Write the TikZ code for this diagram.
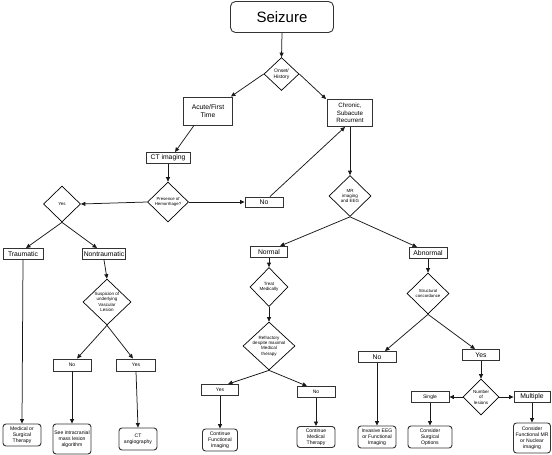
\documentclass[tikz,border=0pt]{standalone}
\usepackage{fontspec}
\setmainfont{Liberation Sans}
\usetikzlibrary{shapes.geometric,arrows.meta}
\tikzset{
  box/.style={draw=black!80, line width=0.9pt, rectangle, inner sep=0pt, align=center, font=\fontsize{6.8}{7.5}\selectfont},
  sbox/.style={box, font=\fontsize{5}{6}\selectfont},
  endbox/.style={draw=black!80, line width=0.9pt, rectangle, rounded corners=3pt, inner sep=0pt, align=center, font=\fontsize{5.1}{5.9}\selectfont},
  dia/.style={draw=black, line width=0.7pt, diamond, inner sep=0pt},
  dtext/.style={align=center, inner sep=0pt, font=\fontsize{4.5}{5.4}\selectfont},
  arr/.style={draw=black!90, line width=0.75pt, -{Triangle[length=4.5pt,width=4pt]}},
  ln/.style={draw=black!90, line width=0.75pt}
}
\begin{document}
\begin{tikzpicture}[x=1pt,y=-1pt]
\useasboundingbox (0,0) rectangle (552,455);
% top
\node[draw=black!80, line width=0.9pt, rounded corners=5pt, minimum width=103pt, minimum height=31pt, inner sep=0pt, font=\fontsize{15}{16}\selectfont] (seizure) at (282,17) {Seizure};
\node[dia, minimum width=35pt, minimum height=33pt] (onset) at (281.5,74) {};
\node[dtext, font=\fontsize{5}{6}\selectfont] at (onset) {Onset/\\History};
\node[box, minimum width=49pt, minimum height=28pt] (acute) at (208,111) {Acute/First\\Time};
\node[box, minimum width=45pt, minimum height=27pt, font=\fontsize{6.2}{7.6}\selectfont] (chronic) at (350,113) {Chronic,\\Subacute\\Recurrent};
\node[box, minimum width=44pt, minimum height=11pt] (ct) at (168,158) {CT imaging};
\node[dia, minimum width=41pt, minimum height=40pt] (hem) at (168,202) {};
\node[dtext, font=\fontsize{4.3}{5.4}\selectfont] at (hem) {Presence of\\Hemorrhage?};
\node[box, minimum width=38pt, minimum height=10pt] (no1) at (264,202) {No};
% left branch
\node[dia, minimum width=37pt, minimum height=36pt] (yesd) at (62,204) {};
\node[dtext] at (yesd) {Yes};
\node[box, minimum width=40pt, minimum height=11pt] (traumatic) at (23,254) {Traumatic};
\node[box, minimum width=43pt, minimum height=11pt] (nontraumatic) at (104,254) {Nontraumatic};
\node[dia, minimum width=48pt, minimum height=46pt] (susp) at (107,302) {};
\node[dtext] at (susp) {Suspicion of\\underlying\\Vascular\\Lesion};
\node[sbox, minimum width=38pt, minimum height=12pt] (no2) at (72,365) {No};
\node[sbox, minimum width=39pt, minimum height=12pt] (yes2) at (136,365) {Yes};
\node[endbox, minimum width=38pt, minimum height=22pt] (medsurg) at (22,435) {Medical or\\Surgical\\Therapy};
\node[endbox, minimum width=38pt, minimum height=30pt] (seeintra) at (72,439) {See intracranial\\mass lesion\\algorithm};
\node[endbox, minimum width=38pt, minimum height=22pt] (ctangio) at (138,439) {CT\\angiography};
% right branch
\node[dia, minimum width=42pt, minimum height=41pt] (mr) at (350,196) {};
\node[dtext] at (mr) {MR\\imaging\\and EEG};
\node[box, minimum width=37pt, minimum height=11pt] (normal) at (269,252) {Normal};
\node[box, minimum width=38pt, minimum height=11pt] (abnormal) at (428,253) {Abnormal};
\node[dia, minimum width=38pt, minimum height=39pt] (treat) at (269,287) {};
\node[dtext] at (treat) {Treat\\Medically};
\node[dia, minimum width=52pt, minimum height=48pt] (refr) at (269,346) {};
\node[dtext] at (refr) {Refractory\\despite maximal\\Medical\\therapy};
\node[sbox, minimum width=37pt, minimum height=11pt] (yes3) at (220,390) {Yes};
\node[sbox, minimum width=38pt, minimum height=11pt] (no3) at (316,392) {No};
\node[endbox, minimum width=35pt, minimum height=22pt] (cfi) at (220,440) {Continue\\Functional\\Imaging};
\node[endbox, minimum width=38pt, minimum height=21pt] (cmt) at (316,437) {Continue\\Medical\\Therapy};
\node[dia, minimum width=42pt, minimum height=41pt] (struct) at (428,293.5) {};
\node[dtext, font=\fontsize{4.3}{5.4}\selectfont] at (struct) {Structural\\concordance};
\node[box, minimum width=38pt, minimum height=11pt] (no4) at (377,357) {No};
\node[box, minimum width=37pt, minimum height=11pt] (yes4) at (481,355) {Yes};
\node[dia, minimum width=36pt, minimum height=36pt] (number) at (481,397) {};
\node[dtext] at (number) {Number\\of\\lesions};
\node[sbox, minimum width=38pt, minimum height=11pt] (single) at (430,397) {Single};
\node[box, minimum width=36pt, minimum height=11pt] (multiple) at (532,397) {Multiple};
\node[endbox, minimum width=38pt, minimum height=22pt] (invasive) at (377,437) {Invasive EEG\\or Functional\\Imaging};
\node[endbox, minimum width=44pt, minimum height=22pt] (surgical) at (430,437) {Consider\\Surgical\\Options};
\node[endbox, minimum width=37pt, minimum height=30pt] (funcmr) at (532,438) {Consider\\Functional MR\\or Nuclear\\imaging};
% connectors
\draw[arr] (seizure.south) -- (onset.north);
\draw[arr] (onset.west) -- ([xshift=-2pt]acute.north east);
\draw[arr] (onset.east) -- ([xshift=-1pt]chronic.north west);
\draw[arr] ([xshift=-14pt]acute.south) -- ([xshift=7pt]ct.north);
\draw[arr] (ct.south) -- (hem.north);
\draw[arr] (hem.east) -- (no1.west);
\draw[arr] ([xshift=6pt]no1.north) -- ([xshift=-5pt]chronic.south);
\draw[arr] (hem.west) -- (yesd.east);
\draw[arr] (yesd.south) -- ([xshift=3pt]traumatic.north);
\draw[arr] (yesd.south) -- ([xshift=-7pt]nontraumatic.north);
\draw[arr] (traumatic.south) -- (medsurg.north);
\draw[arr] (nontraumatic.south) -- (susp.north);
\draw[arr] (susp.south) -- ([xshift=5pt]no2.north);
\draw[arr] (susp.south) -- ([xshift=-3pt]yes2.north);
\draw[arr] (no2.south) -- (seeintra.north);
\draw[arr] (yes2.south) -- (ctangio.north);
\draw[arr] (chronic.south) -- (mr.north);
\draw[arr] (mr.south) -- ([xshift=11pt]normal.north);
\draw[arr] (mr.south) -- ([xshift=-11pt]abnormal.north);
\draw[arr] (normal.south) -- (treat.north);
\draw[arr] (treat.south) -- (refr.north);
\draw[arr] (refr.south) -- ([xshift=8pt]yes3.north);
\draw[arr] (refr.south) -- ([xshift=-9pt]no3.north);
\draw[arr] (yes3.south) -- (cfi.north);
\draw[arr] (no3.south) -- (cmt.north);
\draw[arr] (abnormal.south) -- (struct.north);
\draw[arr] (struct.south) -- ([xshift=8pt]no4.north);
\draw[arr] (struct.south) -- ([xshift=-6pt]yes4.north);
\draw[arr] (no4.south) -- (invasive.north);
\draw[arr] (yes4.south) -- (number.north);
\draw[arr] (number.west) -- (single.east);
\draw[arr] (number.east) -- (multiple.west);
\draw[arr] (single.south) -- (surgical.north);
\draw[arr] (multiple.south) -- (funcmr.north);
\end{tikzpicture}
\end{document}
